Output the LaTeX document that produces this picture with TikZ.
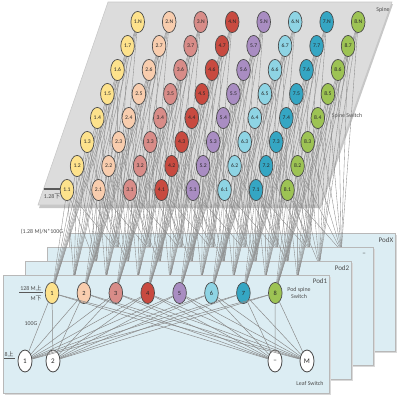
\documentclass[tikz,border=0pt]{standalone}
\usepackage{fontspec}
\setmainfont{Carlito}
\newfontfamily\cjk{Noto Sans CJK SC}
\usetikzlibrary{shapes.geometric}
\definecolor{c1}{HTML}{FDE28C}
\definecolor{c2}{HTML}{F8CDAE}
\definecolor{c3}{HTML}{D88C88}
\definecolor{c4}{HTML}{C84A40}
\definecolor{c5}{HTML}{A98DC2}
\definecolor{c6}{HTML}{8ED4E4}
\definecolor{c7}{HTML}{35A6C3}
\definecolor{c8}{HTML}{9DC354}
\definecolor{panelc}{HTML}{DCEDF3}
\definecolor{spinec}{HTML}{DCDCDC}
\definecolor{linkc}{HTML}{8A8A8A}
\tikzset{
  sw/.style={ellipse, draw=black!70, line width=0.5pt, minimum width=3.4mm, minimum height=5.3mm, inner sep=0pt, font=\fontsize{4}{4}\selectfont, text=black!85},
  leaf/.style={sw, fill=white, line width=0.6pt, minimum width=3.5mm, minimum height=5.5mm, font=\fontsize{5}{5}\selectfont},
  link/.style={draw=linkc, line width=0.25pt},
  panel/.style={draw=black!28, line width=0.4pt, fill=panelc},
  pshadow/.style={fill=black!15},
  lbl/.style={font=\fontsize{4.2}{4.6}\selectfont, text=black!70, inner sep=0pt},
  bar/.style={draw=black!65, line width=0.8pt}
}
\begin{document}
\begin{tikzpicture}[x=0.25mm,y=-0.25mm]
\useasboundingbox (0,0) rectangle (400,400);
% spine plane
\fill[black!22] (39,208)--(321,208)--(393,4)--(109,4)--cycle;
\draw[draw=black!22, fill=spinec, line width=0.4pt] (38,205)--(320,205)--(392,2)--(108,2)--cycle;
\node[lbl] (spinelbl) at (383,10) {Spine};
\node[lbl] (spineswlbl) at (347,116) {Spine Switch};
\node[lbl] (l128d) at (52,196) {1.28{\cjk 下}};
\draw[bar] (44,189) -- (60,189);
% spine switch centres
\foreach \i in {1,...,8}{
  \foreach \j in {1,...,8}{
    \coordinate (sc-\i-\j) at ({67+(\i-1)*31.5+(\j-1)*10.1},{190-(\j-1)*24});
  }
}
\node[lbl] (ratio) at (42,232) {(1.28 M)/N*100G};
% back pods
\foreach \k/\name in {4/PodX,3/–,2/Pod2}{
  \begin{scope}[shift={({22*(\k-1)},{-14*(\k-1)})}]
    \fill[pshadow] (5,277) rectangle (331,395);
    \draw[panel] (3,275) rectangle (329,393);
    \node[lbl, font=\fontsize{5}{5}\selectfont] (podlbl\k) at (320,282) {\name};
    \foreach \i in {1,...,8}{
      \coordinate (p\k-\i) at ({52+(\i-1)*31.9},293);
    }
  \end{scope}
  \foreach \i in {1,...,8}{
    \foreach \j in {1,...,8}{
      \draw[link] (sc-\i-\j) -- (p\k-\i);
    }
  }
}
% pod 1
\fill[pshadow] (5,277) rectangle (331,395);
\draw[panel] (3,275) rectangle (329,393);
\node[lbl, font=\fontsize{5}{5}\selectfont] (podlbl1) at (320,281) {Pod1};
\foreach \i in {1,...,8}{
  \node[sw, fill=c\i, font=\fontsize{4.5}{4.5}\selectfont] (p1-\i) at ({52+(\i-1)*31.9},293) {\i};
}
\foreach \i in {1,...,8}{
  \foreach \j in {1,...,8}{
    \draw[link] (sc-\i-\j) -- (p1-\i);
  }
}
% spine switches
\foreach \i in {1,...,8}{
  \foreach \j/\t in {1/1,2/2,3/3,4/4,5/5,6/6,7/7,8/N}{
    \node[sw, fill=c\i] (s-\i-\j) at (sc-\i-\j) {\i.\t};
  }
}
% leaves
\node[leaf] (l1) at (25,361) {1};
\node[leaf] (l2) at (53,361) {2};
\node[leaf] (l3) at (275,361) {–};
\node[leaf] (lM) at (307,361) {M};
\foreach \i in {1,...,8}{
  \foreach \l in {l1,l2,l3,lM}{
    \draw[link, line width=0.35pt] (p1-\i) -- (\l);
  }
}
% labels in pod 1
\node[lbl, align=center] (podsw) at (299,293) {Pod spine\\Switch};
\node[lbl] (leafsw) at (310,383) {Leaf Switch};
\node[lbl] (m128) at (31,288) {128 M{\cjk 上}};
\draw[bar] (19,292.5) -- (43,292.5);
\node[lbl] (mdown) at (36,298) {M{\cjk 下}};
\node[lbl] (g100) at (31,324) {100G};
\node[lbl] (eightup) at (9,354) {8{\cjk 上}};
\draw[bar, line width=0.6pt] (4,358.5) -- (15,358.5);
\end{tikzpicture}
\end{document}
